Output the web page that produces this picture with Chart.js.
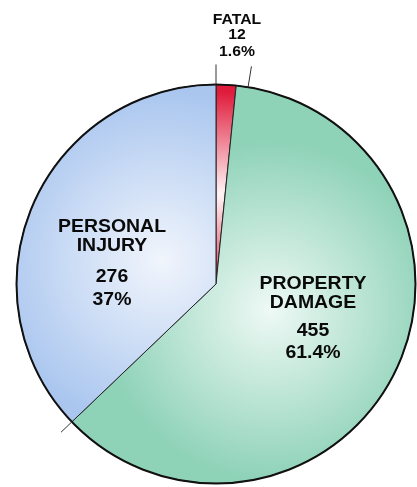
<!DOCTYPE html>
<html>
<head>
<meta charset="utf-8">
<script src="https://cdn.jsdelivr.net/npm/chart.js@4.4.1/dist/chart.umd.min.js"></script>
<style>
  html, body { margin: 0; padding: 0; background: #fff; }
  #wrap { width: 417px; height: 487px; position: relative; }
</style>
</head>
<body>
<div id="wrap"><canvas id="accidentPie"></canvas></div>
<script>
// datos del gráfico
const categories = ['FATAL', 'PROPERTY DAMAGE', 'PERSONAL INJURY'];
const counts = [12, 455, 276];
const percentLabels = ['1.6%', '61.4%', '37%'];

// colores: borde exterior y centro claro de cada porción
const edgeColors = ['#e01c3c', '#8ed2b8', '#aac6ef'];
const lightColors = ['#fff6f7', '#eef9f5', '#f1f5fc'];

function sliceGradient(context) {
  const chart = context.chart;
  const area = chart.chartArea;
  const i = context.dataIndex;
  if (!area) return edgeColors[i];
  const cx = (area.left + area.right) / 2;
  const cy = (area.top + area.bottom) / 2;
  const r = Math.min(area.right - area.left, area.bottom - area.top) / 2;
  const total = counts.reduce((a, b) => a + b, 0);
  let before = 0;
  for (let j = 0; j < i; j++) before += counts[j];
  const start = -Math.PI / 2 + before / total * Math.PI * 2;
  const end = start + counts[i] / total * Math.PI * 2;
  const mid = (start + end) / 2;
  const k = i === 0 ? 0.45 : 0.3;
  const gx = cx + Math.cos(mid) * r * k;
  const gy = cy + Math.sin(mid) * r * k;
  const g = chart.ctx.createRadialGradient(gx, gy, 0, gx, gy, r * (i === 0 ? 0.6 : 1.0));
  g.addColorStop(0, lightColors[i]);
  g.addColorStop(0.85, edgeColors[i]);
  g.addColorStop(1, edgeColors[i]);
  return g;
}

function wideText(ctx, text, x, y, sx) {
  ctx.save();
  ctx.translate(x, y);
  ctx.scale(sx, 1);
  ctx.fillText(text, 0, 0);
  ctx.restore();
}

// etiquetas, líneas guía y borde exterior
const pieExtras = {
  id: 'pieExtras',
  afterDatasetsDraw(chart) {
    const ctx = chart.ctx;
    const arcs = chart.getDatasetMeta(0).data;
    const cx = arcs[0].x, cy = arcs[0].y, r = arcs[0].outerRadius;

    ctx.save();
    // borde exterior
    ctx.beginPath();
    ctx.arc(cx, cy, r, 0, Math.PI * 2);
    ctx.lineWidth = 2;
    ctx.strokeStyle = '#111';
    ctx.stroke();

    // líneas guía fuera del círculo
    ctx.lineWidth = 1;
    ctx.strokeStyle = '#333';
    const leader = (ang, len) => {
      ctx.beginPath();
      ctx.moveTo(cx + Math.cos(ang) * r, cy + Math.sin(ang) * r);
      ctx.lineTo(cx + Math.cos(ang) * (r + len), cy + Math.sin(ang) * (r + len));
      ctx.stroke();
    };
    leader(arcs[0].startAngle, 20);
    leader(arcs[0].endAngle + 0.06, 21);
    leader(arcs[2].startAngle, 15);

    // textos
    ctx.fillStyle = '#0a0a0a';
    ctx.textAlign = 'center';
    ctx.textBaseline = 'middle';
    ctx.font = 'bold 15px "Liberation Sans", Arial, sans-serif';
    wideText(ctx, categories[0], 237, 20, 1.05);
    wideText(ctx, String(counts[0]), 237, 35, 1.05);
    wideText(ctx, percentLabels[0], 237, 52, 1.05);

    ctx.font = 'bold 18px "Liberation Sans", Arial, sans-serif';
    wideText(ctx, 'PROPERTY', 313, 284, 1.08);
    wideText(ctx, 'DAMAGE', 313, 303, 1.08);
    wideText(ctx, String(counts[1]), 313, 331, 1.08);
    wideText(ctx, percentLabels[1], 313, 353, 1.08);

    wideText(ctx, 'PERSONAL', 112, 227, 1.08);
    wideText(ctx, 'INJURY', 112, 246, 1.08);
    wideText(ctx, String(counts[2]), 112, 277, 1.08);
    wideText(ctx, percentLabels[2], 112, 300, 1.08);
    ctx.restore();
  }
};

const config = {
  type: 'pie',
  data: {
    labels: categories,
    datasets: [{
      data: counts,
      backgroundColor: sliceGradient,
      borderColor: '#222',
      borderWidth: 1
    }]
  },
  options: {
    responsive: true,
    maintainAspectRatio: false,
    animation: false,
    layout: { padding: { top: 82, bottom: 1, left: 16, right: 1 } },
    plugins: {
      legend: { display: false },
      tooltip: { enabled: false }
    }
  },
  plugins: [pieExtras]
};

const ctx = document.getElementById('accidentPie').getContext('2d');
const accidentChart = new Chart(ctx, config);
</script>
</body>
</html>
